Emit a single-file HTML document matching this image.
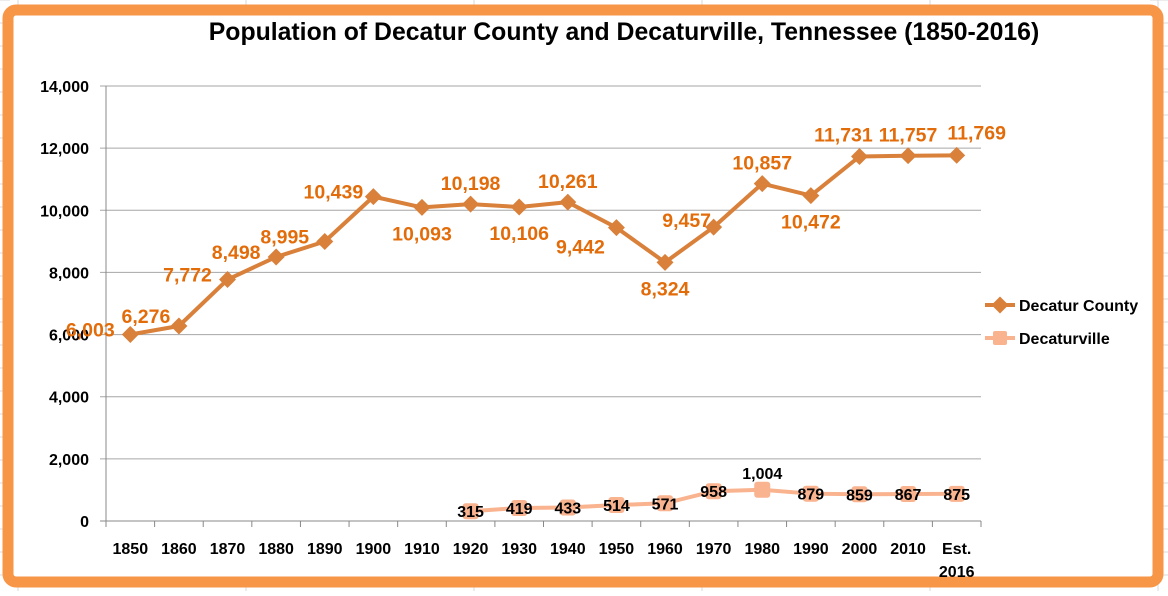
<!DOCTYPE html>
<html><head><meta charset="utf-8"><style>
body{margin:0;width:1168px;height:591px;overflow:hidden;background:#fff;font-family:"Liberation Sans",sans-serif}
</style></head><body>
<svg id="c" width="1168" height="591" xmlns="http://www.w3.org/2000/svg">
<g id="bggrid" stroke="#d8d8d8" stroke-width="1"></g>
<rect x="8" y="10" width="1150" height="572" rx="8" fill="#fff" stroke="#F79646" stroke-width="11"/>
<text x="624" y="40" text-anchor="middle" font-size="24.8" font-weight="bold" fill="#000">Population of Decatur County and Decaturville, Tennessee (1850-2016)</text>
<g id="plot"></g>
<g>
<line x1="985" y1="305" x2="1015" y2="305" stroke="#D9803A" stroke-width="4"/>
<rect x="994" y="299" width="12" height="12" fill="#D9803A" transform="rotate(45 1000 305)"/>
<text x="1019" y="311" font-size="16" font-weight="bold">Decatur County</text>
<line x1="985" y1="338" x2="1015" y2="338" stroke="#F9B38F" stroke-width="4"/>
<rect x="993" y="331" width="14" height="14" rx="2" fill="#F9B38F"/>
<text x="1019" y="344" font-size="16" font-weight="bold">Decaturville</text>
</g>
</svg>
<script>
const categories=["1850","1860","1870","1880","1890","1900","1910","1920","1930","1940","1950","1960","1970","1980","1990","2000","2010","Est. 2016"];
const countyValues=[6003,6276,7772,8498,8995,10439,10093,10198,10106,10261,9442,8324,9457,10857,10472,11731,11757,11769];
const countyLabelSide=["left","upleft","left","left","left","left","below","above","below","above","belowleft","below","leftnear","above","below","aboveleft","above","aboveright"];
const townValues=[null,null,null,null,null,null,null,315,419,433,514,571,958,1004,879,859,867,875];
const townLabelSide=["c","c","c","c","c","c","c","c","c","c","c","c","c","above","c","c","c","c"];
const yTicks=[0,2000,4000,6000,8000,10000,12000,14000];
const NS="http://www.w3.org/2000/svg";
const L=106,R=981,T=86,B=521,yMax=14000;
const step=(R-L)/categories.length;
const x=i=>L+step*(i+0.5);
const y=v=>B-(v/yMax)*(B-T);
const plot=document.getElementById('plot');
function mk(tag,attrs,parent){const e=document.createElementNS(NS,tag);for(const k in attrs)e.setAttribute(k,attrs[k]);(parent||plot).appendChild(e);return e;}
const fmt=v=>v.toLocaleString('en-US');
const bg=document.getElementById('bggrid');
for(let gx=18;gx<1168;gx+=228){mk('line',{x1:gx,y1:0,x2:gx,y2:591},bg);}
for(let gy=0;gy<591;gy+=23){mk('line',{x1:1150,y1:gy,x2:1168,y2:gy},bg);mk('line',{x1:0,y1:gy,x2:10,y2:gy},bg);}
yTicks.forEach(t=>{
 const g=mk('line',{x1:L-6,y1:y(t),x2:R,y2:y(t),stroke:t===0?'#888':'#a6a6a6','stroke-width':1});
 
 
 const tx=mk('text',{x:L-17,y:y(t)+6,'text-anchor':'end','font-size':16,'font-weight':'bold'});
 tx.textContent=fmt(t);
 
 
});
mk('line',{x1:L,y1:T,x2:L,y2:B,stroke:'#888'});
categories.forEach((c,i)=>{
 mk('line',{x1:L+step*i,y1:B,x2:L+step*i,y2:B+6,stroke:'#888'});
 const parts=c.split(' ');
 parts.forEach((p,j)=>{
  const t=mk('text',{x:x(i),y:B+33+j*23,'text-anchor':'middle','font-size':16,'font-weight':'bold'});
  t.textContent=p;
  
  
 });
});
mk('line',{x1:R,y1:B,x2:R,y2:B+6,stroke:'#888'});
let d='';countyValues.forEach((v,i)=>{d+=(i?'L':'M')+x(i)+' '+y(v);});
const cl=mk('path',{d,fill:'none',stroke:'#D9803A','stroke-width':4,'stroke-linejoin':'round'});


const off={left:[-40,2],upleft:[-33,-3],leftnear:[-27,0],below:[0,33],above:[0,-14],belowleft:[-36,26],aboveleft:[-16,-15],aboveright:[20,-16]};
countyValues.forEach((v,i)=>{
 const m=mk('rect',{x:x(i)-6,y:y(v)-6,width:12,height:12,fill:'#D9803A',transform:`rotate(45 ${x(i)} ${y(v)})`});
 
 
 const o=off[countyLabelSide[i]];
 const t=mk('text',{x:x(i)+o[0],y:y(v)+o[1],'text-anchor':'middle','font-size':19.5,'font-weight':'bold',fill:'#E36C0A'});
 t.textContent=fmt(v);
 
 
});
d='';let first=true;townValues.forEach((v,i)=>{if(v==null)return;d+=(first?'M':'L')+x(i)+' '+y(v);first=false;});
const tl=mk('path',{d,fill:'none',stroke:'#F9B38F','stroke-width':4});


townValues.forEach((v,i)=>{
 if(v==null)return;
 const m=mk('rect',{x:x(i)-8,y:y(v)-8,width:16,height:16,rx:3,fill:'#F9B38F'});
 
 
 const above=townLabelSide[i]==='above';
 const t=mk('text',{x:x(i),y:above?y(v)-11:y(v)+6,'text-anchor':'middle','font-size':16,'font-weight':'bold',fill:'#000'});
 t.textContent=fmt(v);
 
 
});
</script>
</body></html>
